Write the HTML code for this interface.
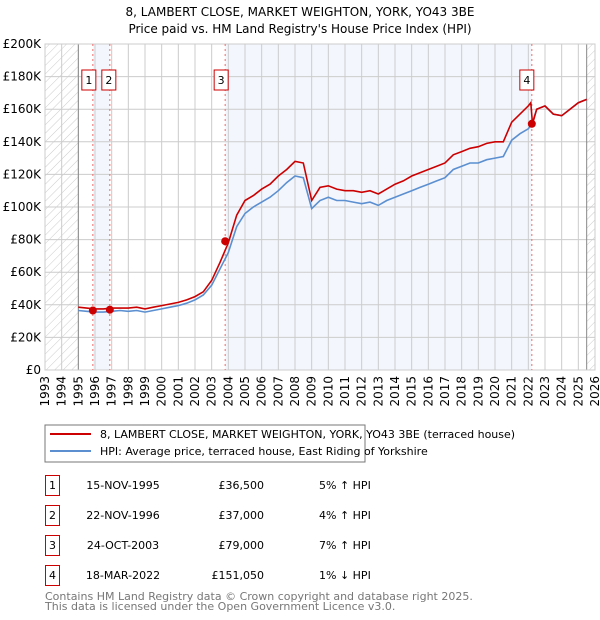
<!DOCTYPE html>
<html><head><meta charset="utf-8"><style>
body{margin:0;background:#fff;font-family:"DejaVu Sans","Liberation Sans",sans-serif;}
svg{display:block}
</style></head><body>
<svg id="c" width="600" height="620" xmlns="http://www.w3.org/2000/svg">
<defs><pattern id="hatch" width="6" height="6" patternUnits="userSpaceOnUse" patternTransform="rotate(45)"><line x1="0" y1="0" x2="0" y2="6" stroke="#ccc" stroke-width="1"/></pattern></defs>
<text x="300" y="16" text-anchor="middle" font-size="12">8, LAMBERT CLOSE, MARKET WEIGHTON, YORK, YO43 3BE</text>
<text x="300" y="33" text-anchor="middle" font-size="12">Price paid vs. HM Land Registry's House Price Index (HPI)</text>
<g id="plot"></g>
<rect x="45" y="425" width="320" height="37" fill="#fff" stroke="#777"/>
<line x1="50" y1="434" x2="91" y2="434" stroke="#cc0000" stroke-width="2"/>
<text x="100" y="438" font-size="11">8, LAMBERT CLOSE, MARKET WEIGHTON, YORK, YO43 3BE (terraced house)</text>
<line x1="50" y1="451" x2="91" y2="451" stroke="#5b8fd0" stroke-width="2"/>
<text x="100" y="455" font-size="11">HPI: Average price, terraced house, East Riding of Yorkshire</text>
<g id="tbl" font-size="11"></g>
<text x="45" y="600" font-size="11" fill="#777">Contains HM Land Registry data © Crown copyright and database right 2025.</text>
<text x="45" y="610" font-size="11" fill="#777">This data is licensed under the Open Government Licence v3.0.</text>
</svg>
<script>
const years=[1995,1995.5,1996,1996.5,1997,1997.5,1998,1998.5,1999,1999.5,2000,2000.5,2001,2001.5,2002,2002.5,2003,2003.5,2004,2004.5,2005,2005.5,2006,2006.5,2007,2007.5,2008,2008.5,2009,2009.5,2010,2010.5,2011,2011.5,2012,2012.5,2013,2013.5,2014,2014.5,2015,2015.5,2016,2016.5,2017,2017.5,2018,2018.5,2019,2019.5,2020,2020.5,2021,2021.5,2022,2022.15,2022.25,2022.5,2023,2023.5,2024,2024.5,2025,2025.5];
const hpi=[36.5,36,35.5,35.5,36,36.5,36,36.5,35.5,36.5,37.5,38.5,39.5,41,43,46,52,62,72,88,96,100,103,106,110,115,119,118,99,104,106,104,104,103,102,103,101,104,106,108,110,112,114,116,118,123,125,127,127,129,130,131,141,145,148,150,152,160,162,157,156,160,164,166];
const red=[38.5,38,37.5,37.5,38,38,38,38.5,37.5,38.5,39.5,40.5,41.5,43,45,48,55,66,78,95,104,107,111,114,119,123,128,127,104,112,113,111,110,110,109,110,108,111,114,116,119,121,123,125,127,132,134,136,137,139,140,140,152,157,162,164,151,160,162,157,156,160,164,166];
const saleYears=[1995.87,1996.89,2003.81,2022.21];
const salePrices=[36.5,37,79,151.05];
const saleLabels=["1","2","3","4"];
const saleDates=["15-NOV-1995","22-NOV-1996","24-OCT-2003","18-MAR-2022"];
const salePriceText=["£36,500","£37,000","£79,000","£151,050"];
const saleHpi=["5% ↑ HPI","4% ↑ HPI","7% ↑ HPI","1% ↓ HPI"];
const yTicks=[0,20,40,60,80,100,120,140,160,180,200];
const xTicks=[];for(let y=1993;y<=2026;y++)xTicks.push(y);

const X0=45,X1=595,Y0=370,Y1=44;
const xs=v=>X0+(v-1993)/(2026-1993)*(X1-X0);
const ys=v=>Y0-v/200*(Y0-Y1);
const NS="http://www.w3.org/2000/svg";
const plot=document.getElementById('plot');
function mk(tag,attrs,parent){const e=document.createElementNS(NS,tag);for(const k in attrs)e.setAttribute(k,attrs[k]);(parent||plot).appendChild(e);return e;}

let e;
e=mk('rect',{x:X0,y:Y1,width:X1-X0,height:Y0-Y1,fill:'#fff'});
e=mk('rect',{x:xs(saleYears[0]),y:Y1,width:xs(saleYears[1])-xs(saleYears[0]),height:Y0-Y1,fill:'#f3f6fd'});


e=mk('rect',{x:xs(saleYears[2]),y:Y1,width:xs(saleYears[3])-xs(saleYears[2]),height:Y0-Y1,fill:'#f3f6fd'});


e=mk('rect',{x:X0,y:Y1,width:xs(1995)-X0,height:Y0-Y1,fill:'url(#hatch)'});


e=mk('rect',{x:xs(2025.5),y:Y1,width:X1-xs(2025.5),height:Y0-Y1,fill:'url(#hatch)'});



yTicks.forEach(t=>{
  mk('line',{x1:X0,x2:X1,y1:ys(t),y2:ys(t),stroke:'#ccc','stroke-width':1});
  e=mk('text',{x:X0-4,y:ys(t)+4,'text-anchor':'end','font-size':12});
  e.textContent=t===0?'£0':'£'+t+'K';
  
  
});
xTicks.forEach(t=>{
  mk('line',{x1:xs(t),x2:xs(t),y1:Y1,y2:Y0,stroke:'#ccc','stroke-width':1});
  e=mk('text',{x:0,y:0,'text-anchor':'end','font-size':12,transform:`translate(${xs(t)+4},${Y0+6}) rotate(-90)`});
  e.textContent=t;
  
  
});
mk('line',{x1:xs(1995),x2:xs(1995),y1:Y1,y2:Y0,stroke:'#888'});
mk('line',{x1:xs(2025.5),x2:xs(2025.5),y1:Y1,y2:Y0,stroke:'#888'});
mk('rect',{x:X0,y:Y1,width:X1-X0,height:Y0-Y1,fill:'none',stroke:'#ccc'});

saleYears.forEach((sy,i)=>{
  e=mk('line',{x1:xs(sy),x2:xs(sy),y1:Y1,y2:Y0,stroke:'#f26a6a','stroke-dasharray':'2,3'});
  
  
});

const path=arr=>arr.map((v,i)=>(i?'L':'M')+xs(years[i]).toFixed(1)+','+ys(v).toFixed(1)).join('');
e=mk('path',{d:path(hpi),fill:'none',stroke:'#5b8fd0','stroke-width':1.6});


e=mk('path',{d:path(red),fill:'none',stroke:'#cc0000','stroke-width':1.6});



const boxOff=[-11,-8,-11,-12];
saleYears.forEach((sy,i)=>{
  e=mk('circle',{cx:xs(sy),cy:ys(salePrices[i]),r:4,fill:'#cc0000'});
  
  
  const g=mk('g',{});
  
  
  mk('rect',{x:xs(sy)+boxOff[i],y:70,width:14,height:20,fill:'#fff',stroke:'#cc0000'},g);
  const t=mk('text',{x:xs(sy)+boxOff[i]+7,y:84,'text-anchor':'middle','font-size':11},g);
  t.textContent=saleLabels[i];
});

const tbl=document.getElementById('tbl');
saleYears.forEach((sy,i)=>{
  const y=475+i*30;
  const g=mk('g',{},tbl);
  
  
  mk('rect',{x:45.5,y:y+0.5,width:14,height:20,fill:'#fff',stroke:'#cc0000'},g);
  let t=mk('text',{x:52.5,y:y+14,'text-anchor':'middle'},g);t.textContent=saleLabels[i];
  t=mk('text',{x:123,y:y+14,'text-anchor':'middle'},g);t.textContent=saleDates[i];
  t=mk('text',{x:264,y:y+14,'text-anchor':'end'},g);t.textContent=salePriceText[i];
  t=mk('text',{x:319,y:y+14},g);t.textContent=saleHpi[i];
});
</script>
</body></html>
